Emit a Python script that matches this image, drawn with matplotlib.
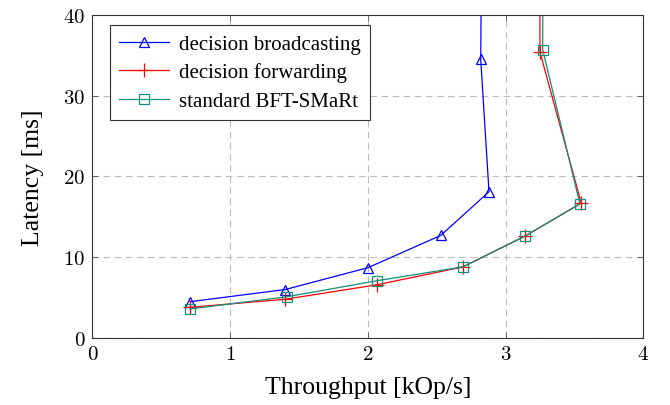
import matplotlib.pyplot as plt
from matplotlib.ticker import FuncFormatter

plt.rcParams['font.family'] = ['Liberation Serif', 'DejaVu Serif']
plt.rcParams['mathtext.fontset'] = 'cm'

# throughput [kOp/s] vs latency [ms]
bcast_x = [0.71, 1.40, 2.00, 2.53, 2.88, 2.82, 2.84]
bcast_y = [4.5, 6.0, 8.7, 12.7, 18.1, 34.5, 80.0]

fwd_x = [0.71, 1.40, 2.07, 2.69, 3.14, 3.55, 3.25, 3.25]
fwd_y = [3.8, 4.8, 6.6, 8.8, 12.6, 16.7, 35.4, 80.0]

std_x = [0.71, 1.41, 2.07, 2.69, 3.14, 3.54, 3.27, 3.28]
std_y = [3.6, 5.1, 7.1, 8.8, 12.6, 16.6, 35.7, 80.0]

teal = '#0f8f7c'

fig = plt.figure(figsize=(6.7, 4.06), dpi=100)
ax = fig.add_axes([0.138, 0.165, 0.822, 0.796])

ax.plot(bcast_x, bcast_y, color='blue', lw=0.9, marker='^', ms=7,
        mfc='none', mec='blue', mew=0.9, label='decision broadcasting')
ax.plot(fwd_x, fwd_y, color='red', lw=0.9, marker='+', ms=10,
        mec='red', mew=0.9, label='decision forwarding')
ax.plot(std_x, std_y, color=teal, lw=0.9, marker='s', ms=7.5,
        mfc='none', mec=teal, mew=0.9, label='standard BFT-SMaRt')

ax.set_xlim(0, 4)
ax.set_ylim(0, 40)
ax.set_xticks([0, 1, 2, 3, 4])
ax.set_yticks([0, 10, 20, 30, 40])
fmt = FuncFormatter(lambda v, p: '$%d$' % v)
ax.xaxis.set_major_formatter(fmt)
ax.yaxis.set_major_formatter(fmt)
ax.tick_params(direction='in', top=True, right=True, length=4,
               width=0.6, color='#555555', labelsize=15, pad=5)
ax.grid(True, color='#bbbbbb', linestyle=(0, (6, 4)), lw=0.8)
for s in ax.spines.values():
    s.set_color('#333333')
    s.set_linewidth(0.8)

ax.set_xlabel('Throughput [kOp/s]', fontsize=18.5, labelpad=9)
ax.set_ylabel('Latency [ms]', fontsize=18.5, labelpad=14)

leg = ax.legend(loc='upper left', bbox_to_anchor=(0.031, 0.969), fontsize=15,
                fancybox=False, framealpha=1, edgecolor='#333333',
                handlelength=2.4, borderpad=0.45, labelspacing=0.42,
                handletextpad=0.5, borderaxespad=0)
leg.get_frame().set_linewidth(0.8)

fig.savefig('out.png', dpi=100)
